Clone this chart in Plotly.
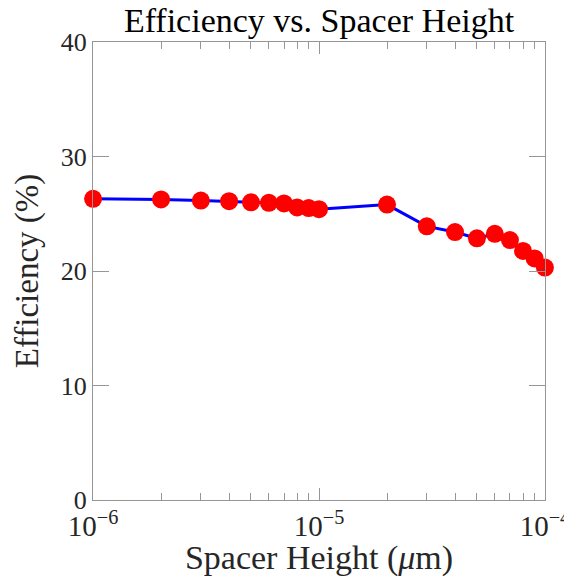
import plotly.graph_objects as go

spacer_height = [1e-6, 2e-6, 3e-6, 4e-6, 5e-6, 6e-6, 7e-6, 8e-6, 9e-6, 1e-5,
                 2e-5, 3e-5, 4e-5, 5e-5, 6e-5, 7e-5, 8e-5, 9e-5, 1e-4]
efficiency = [26.3, 26.25, 26.15, 26.1, 26.0, 25.95, 25.9, 25.55, 25.5, 25.4,
              25.8, 23.9, 23.4, 22.85, 23.25, 22.7, 21.75, 21.1, 20.3]

x_tickvals = [1e-6, 1e-5, 1e-4]
x_ticktext = ["10<sup>\u22126</sup>", "10<sup>\u22125</sup>", "10<sup>\u22124</sup>"]
y_tickvals = [0, 10, 20, 30, 40]

font_family = "Liberation Serif, DejaVu Serif, serif"
axis_col = "rgb(150,150,150)"

# page body has an ~8px default margin; figure extends to the window's right edge
W, H = 564, 569

fig = go.Figure()
fig.add_trace(go.Scatter(
    x=spacer_height, y=efficiency, mode="lines+markers",
    line=dict(color="rgb(0,0,255)", width=3),
    marker=dict(color="rgb(255,0,0)", size=18, line=dict(width=0)),
    cliponaxis=False, showlegend=False,
))

fig.update_layout(
    width=W, height=H,
    margin=dict(l=85, r=27, t=34, b=77),
    paper_bgcolor="white", plot_bgcolor="white",
    font=dict(family=font_family, color="rgb(38,38,38)", size=26),
    title=dict(text="Efficiency vs. Spacer Height", x=0.5, xref="paper", xanchor="center",
               y=1 - 12 / H, yref="container", yanchor="middle",
               font=dict(size=34, color="black")),
)
fig.update_xaxes(
    type="log", range=[-6.0003, -3.9997], automargin=False,
    tickvals=x_tickvals, ticktext=x_ticktext, ticklabeloverflow="allow",
    ticks="inside", ticklen=12, tickcolor=axis_col, tickwidth=1,
    minor=dict(ticks="inside", ticklen=7, tickcolor=axis_col, dtick="D1", showgrid=False),
    showline=True, linecolor=axis_col, linewidth=1, mirror="ticks",
    showgrid=False, zeroline=False,
    tickfont=dict(size=29),
    title=dict(text="Spacer Height (<i>\u03bc</i>m)", font=dict(size=34), standoff=4),
)
fig.update_yaxes(
    range=[0, 40], tickvals=y_tickvals, automargin=False,
    ticks="inside", ticklen=16, tickcolor=axis_col, tickwidth=1,
    showline=True, linecolor=axis_col, linewidth=1, mirror="ticks",
    showgrid=False, zeroline=False,
    tickfont=dict(size=26),
    title=dict(text="Efficiency (%)", font=dict(size=33), standoff=12),
)

fig.write_html("out.html")
